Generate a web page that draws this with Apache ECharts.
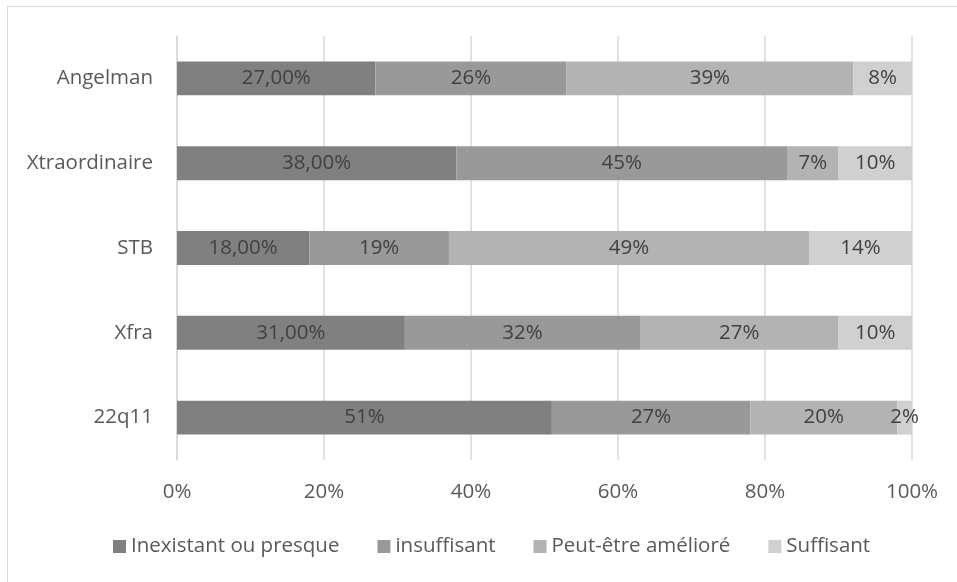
<!DOCTYPE html>
<html><head><meta charset="utf-8">
<script src="https://cdn.jsdelivr.net/npm/echarts@6/dist/echarts.min.js"></script>
<style>html,body{margin:0;padding:0;background:#fff}#c{width:957px;height:582px;position:relative}#b{position:absolute;left:7px;top:6px;right:-5px;bottom:-5px;border:1.5px solid #d9d9d9;pointer-events:none}</style>
</head><body>
<div id="c"></div>
<script>
var categories = ['Angelman', 'Xtraordinaire', 'STB', 'Xfra', '22q11'];
var seriesNames = ['Inexistant ou presque', 'insuffisant', 'Peut-être amélioré', 'Suffisant'];
var inexistant = [27, 38, 18, 31, 51];
var insuffisant = [26, 45, 19, 32, 27];
var ameliore = [39, 7, 49, 27, 20];
var suffisant = [8, 10, 14, 10, 2];
var inexistantLabels = ['27,00%', '38,00%', '18,00%', '31,00%', '51%'];
var xTicks = [0, 20, 40, 60, 80, 100];
var colors = ['#808080', '#999999', '#b3b3b3', '#d0d0d0'];

var chart = echarts.init(document.getElementById('c'));
var font = 'Open Sans';
var fs = 20.5;
function mk(i, data, labels) {
  return {
    name: seriesNames[i], type: 'bar', stack: 'all', barCategoryGap: '60%',
    data: data, itemStyle: {color: colors[i]},
    label: {show: true, position: 'inside', color: '#404040', fontFamily: font, fontSize: fs,
      formatter: function (p) { return labels ? labels[p.dataIndex] : p.value + '%'; }},
    emphasis: {disabled: true}
  };
}
chart.setOption({
  animation: false,
  textStyle: {fontFamily: font},
  grid: {left: 177, right: 45, top: 36, bottom: 122, containLabel: false},
  legend: {bottom: 20, left: 108, itemWidth: 13, itemHeight: 13, itemGap: 38, icon: 'rect',
    textStyle: {color: '#595959', fontSize: fs, fontFamily: font}, data: seriesNames},
  xAxis: {type: 'value', min: 0, max: 100, interval: 20,
    axisLabel: {color: '#595959', fontSize: fs, margin: 22, formatter: function (v) { return v + '%'; }},
    splitLine: {lineStyle: {color: '#d9d9d9', width: 1.5}}, axisLine: {show: false}, axisTick: {show: false}},
  yAxis: {type: 'category', data: categories, inverse: true,
    axisLabel: {color: '#595959', fontSize: fs, margin: 24},
    axisLine: {lineStyle: {color: '#d9d9d9', width: 1.5}}, axisTick: {show: false}},
  series: [mk(0, inexistant, inexistantLabels), mk(1, insuffisant), mk(2, ameliore), mk(3, suffisant)]
});
</script>
<div id="b" style="position:absolute"></div>
</body></html>
